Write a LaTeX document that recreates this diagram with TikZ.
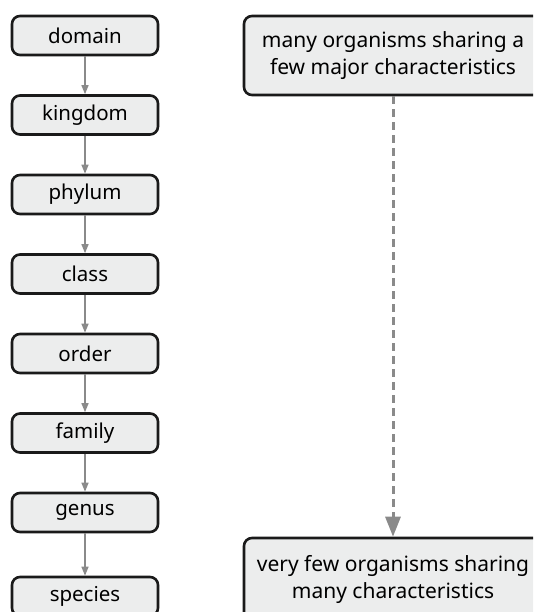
\documentclass[tikz,border=0pt]{standalone}
\usepackage{fontspec}
\setmainfont{Noto Sans}
\usetikzlibrary{arrows.meta}
\definecolor{boxfill}{HTML}{ECEDED}
\definecolor{boxline}{HTML}{1A1A1A}
\definecolor{arrowgray}{HTML}{8A8A8A}
\tikzset{
  rankbox/.style={draw=boxline, line width=2.6pt, fill=boxfill, rounded corners=8pt,
    minimum width=146pt, minimum height=39pt, inner sep=0pt, font=\fontsize{20.5}{24}\selectfont},
  notebox/.style={draw=boxline, line width=2.6pt, fill=boxfill, rounded corners=8pt,
    minimum width=298pt, inner sep=0pt, align=center, font=\fontsize{21}{27}\selectfont},
  steparrow/.style={draw=arrowgray, line width=1.3pt, -{Triangle[length=9pt,width=7pt]}},
  scalearrow/.style={draw=arrowgray, line width=3pt, dash pattern=on 8pt off 5pt,
    -{Triangle[length=20pt,width=15pt]}}
}
\begin{document}
\begin{tikzpicture}[x=1pt,y=1pt]
\useasboundingbox (0,0) rectangle (533,-612);
\clip (0,0) rectangle (533,-612);
% taxonomic ranks, top to bottom
\node[rankbox] (domain)  at (85,-35.5)  {domain};
\node[rankbox] (kingdom) at (85,-115)   {kingdom};
\node[rankbox] (phylum)  at (85,-194.5) {phylum};
\node[rankbox] (class)   at (85,-274)   {class};
\node[rankbox] (order)   at (85,-353.5) {order};
\node[rankbox] (family)  at (85,-433)   {family};
\node[rankbox] (genus)   at (85,-512.5) {genus};
\node[rankbox] (species) at (85,-596.5) {species};
\foreach \a/\b in {domain/kingdom,kingdom/phylum,phylum/class,class/order,order/family,family/genus,genus/species}
  \draw[steparrow] (\a) -- (\b);
% breadth of each group
\node[notebox, minimum height=79pt] (many) at (393,-55.5)
  {many organisms sharing a\\few major characteristics};
\node[notebox, minimum height=82pt] (few) at (393,-579)
  {very few organisms sharing\\many characteristics};
\draw[scalearrow] (many) -- (few);
\end{tikzpicture}
\end{document}
